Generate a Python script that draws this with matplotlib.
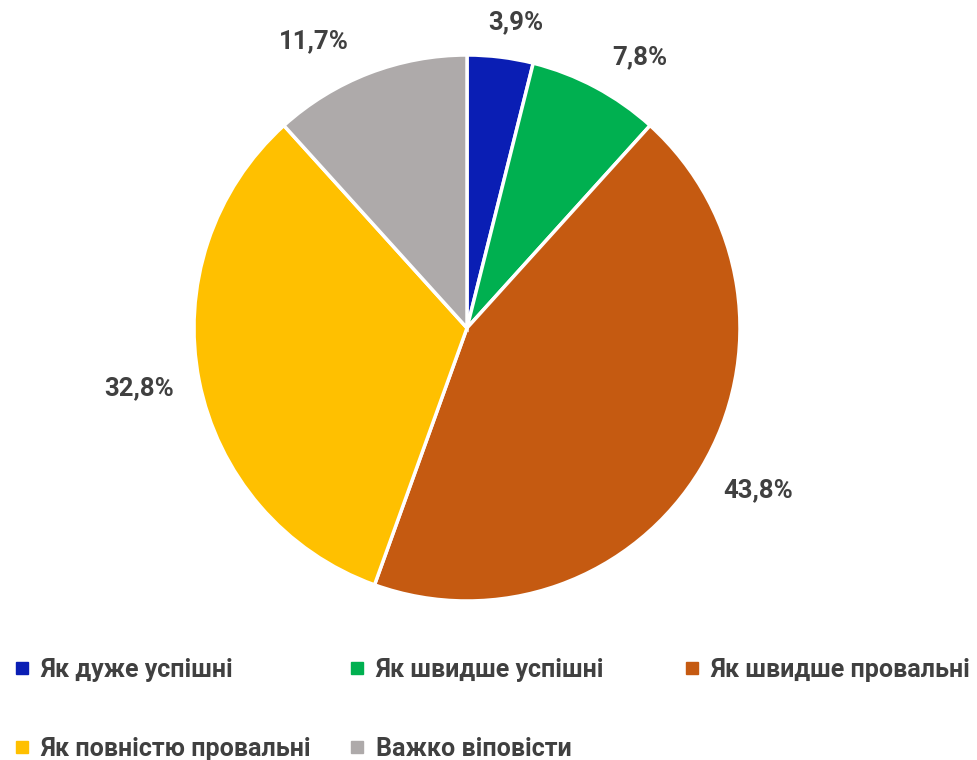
import matplotlib.pyplot as plt
from matplotlib.lines import Line2D
import numpy as np

categories = [
    "Як дуже успішні",
    "Як швидше успішні",
    "Як швидше провальні",
    "Як повністю провальні",
    "Важко віповісти",
]
shares = [3.9, 7.8, 43.8, 32.8, 11.7]
share_labels = ["3,9%", "7,8%", "43,8%", "32,8%", "11,7%"]
colors = ["#0A1EB4", "#00B050", "#C55A11", "#FFC000", "#AEAAAA"]
label_distances = [1.135, 1.175, 1.22, 1.22, 1.19]
label_angle_shifts = [-2.0, -4.5, 1.8, -0.8, 7.0]

text_color = "#404040"
plt.rcParams["font.family"] = ["Roboto", "DejaVu Sans"]

figure = plt.figure(figsize=(9.77, 7.6), dpi=100)
radius_px = 273
center_x, center_y = 467, 328
axis = figure.add_axes([
    (center_x - radius_px) / 977,
    (760 - center_y - radius_px) / 760,
    2 * radius_px / 977,
    2 * radius_px / 760,
])
wedges, _ = axis.pie(
    shares,
    colors=colors,
    startangle=90,
    counterclock=False,
    radius=1,
    wedgeprops={"edgecolor": "white", "linewidth": 2.5},
)
axis.set_xlim(-1, 1)
axis.set_ylim(-1, 1)
axis.set_aspect("equal")

for wedge, label, distance, shift in zip(
    wedges, share_labels, label_distances, label_angle_shifts
):
    angle = np.deg2rad((wedge.theta1 + wedge.theta2) / 2 + shift)
    axis.text(
        distance * np.cos(angle),
        distance * np.sin(angle),
        label,
        ha="center",
        va="center",
        fontsize=18.5,
        fontweight="bold",
        color=text_color,
    )

column_items = [[0, 3], [1, 4], [2]]
column_x = [2 / 977, 337 / 977, 672 / 977]
for items, x in zip(column_items, column_x):
    handles = [
        Line2D([], [], linestyle="none", marker="s", markersize=8,
               markerfacecolor=colors[i], markeredgecolor=colors[i])
        for i in items
    ]
    legend = figure.legend(
        handles,
        [categories[i] for i in items],
        loc="upper left",
        bbox_to_anchor=(x, 1 - 645 / 760),
        frameon=False,
        borderpad=0,
        handlelength=0.6,
        handletextpad=0.45,
        labelspacing=2.22,
        prop={"size": 18, "weight": "bold"},
    )
    for text in legend.get_texts():
        text.set_color(text_color)

figure.savefig("out.png", dpi=100)
